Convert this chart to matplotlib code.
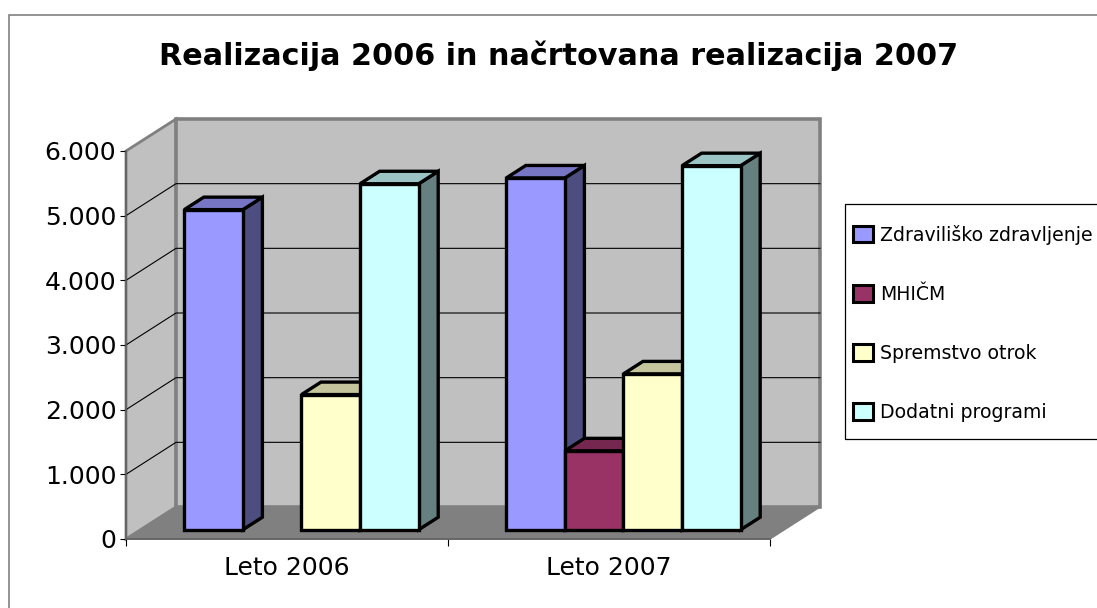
import matplotlib
matplotlib.use("Agg")
import matplotlib.pyplot as plt
from matplotlib.colors import to_rgb
from matplotlib.patches import Patch, Rectangle
from matplotlib.ticker import FuncFormatter

W, H = 1097, 608

title = "Realizacija 2006 in načrtovana realizacija 2007"
years = ["Leto 2006", "Leto 2007"]
series = ["Zdraviliško zdravljenje", "MHIČM", "Spremstvo otrok", "Dodatni programi"]
colors = ["#9999FF", "#993366", "#FFFFCC", "#CCFFFF"]
zdravilisko = [4950, 5440]
mhicm = [0, 1220]
spremstvo = [2090, 2410]
dodatni = [5350, 5630]
y_ticks = [0, 1000, 2000, 3000, 4000, 5000, 6000]

plt.rcParams["font.family"] = "DejaVu Sans"

fig = plt.figure(figsize=(W / 100, H / 100), dpi=100)
# outer chart border, runs off the right and bottom of the picture
fig.add_artist(Rectangle((9 / W, -0.02), 1.1, 1.02 - 14.5 / H, transform=fig.transFigure,
                         fc="white", ec="#808080", lw=1.2, zorder=-1))

left, right, top, bottom = 126, 770, 151, 539
ax = fig.add_axes([left / W, 1 - bottom / H, (right - left) / W, (bottom - top) / H])
ax.set_xlim(0, 2)
ax.set_ylim(0, 6000)
ax.patch.set_visible(False)

# depth of the 3d box in data units (50 px across, 32 px up)
DX = 50 / 322
DY = 32 / (388 / 6000)


def proj(x, y, d):
    return x + d * DX, y + d * DY


def face(points, d_color, edge="black", lw=2.4, z=5):
    xs = [p[0] for p in points]
    ys = [p[1] for p in points]
    ax.fill(xs, ys, fc=d_color, ec=edge, lw=lw, zorder=z, clip_on=False, joinstyle="miter")


def shade(color, k):
    return tuple(c * k for c in to_rgb(color))


# walls and floor
face([proj(0, 0, 0), proj(0, 0, 1), proj(0, 6000, 1), proj(0, 6000, 0)], "#C0C0C0", "#808080", 2, 1)
face([proj(0, 0, 1), proj(2, 0, 1), proj(2, 6000, 1), proj(0, 6000, 1)], "#C0C0C0", "#808080", 2.6, 1)
face([proj(0, 0, 0), proj(2, 0, 0), proj(2, 0, 1), proj(0, 0, 1)], "#808080", "#808080", 1, 2)

for v in y_ticks[1:-1]:
    a, b = proj(0, v, 0), proj(0, v, 1)
    c = proj(2, v, 1)
    ax.plot([a[0], b[0], c[0]], [a[1], b[1], c[1]], color="black", lw=0.8, zorder=3, clip_on=False)

# bars
w = 58.6 / 322
d0, d1 = 0.29, 0.68
values = [zdravilisko, mhicm, spremstvo, dodatni]
for i in range(len(years)):
    for j, vals in enumerate(values):
        v = vals[i]
        if v == 0:
            continue
        x0 = i + 0.5 - 2 * w + j * w
        x1 = x0 + w
        col = colors[j]
        face([proj(x1, 0, d0), proj(x1, 0, d1), proj(x1, v, d1), proj(x1, v, d0)], shade(col, 0.5))
        face([proj(x0, v, d0), proj(x1, v, d0), proj(x1, v, d1), proj(x0, v, d1)], shade(col, 0.77))
        face([proj(x0, 0, d0), proj(x1, 0, d0), proj(x1, v, d0), proj(x0, v, d0)], col)

for s in ["top", "right"]:
    ax.spines[s].set_visible(False)
for s in ["left", "bottom"]:
    ax.spines[s].set_color("#606060")
    ax.spines[s].set_linewidth(1.2)
    ax.spines[s].set_zorder(4)

ax.set_yticks(y_ticks)
ax.yaxis.set_major_formatter(FuncFormatter(lambda v, p: f"{int(v):,}".replace(",", ".")))
ax.tick_params(axis="y", length=4, width=0.8, labelsize=18, pad=3)
ax.set_xticks([0, 1, 2])
ax.set_xticklabels([])
ax.set_xticks([0.5, 1.5], minor=True)
ax.set_xticklabels(years, minor=True, fontsize=18)
ax.tick_params(axis="x", which="major", length=5, width=0.8)
ax.tick_params(axis="x", which="minor", length=0, pad=12)

fig.text(559 / W, 1 - 56 / H, title, ha="center", va="center", fontsize=21.75, fontweight="bold")

# legend frame goes off the right edge of the picture like in the original
fig.add_artist(Rectangle((845 / W, 1 - 438.5 / H), 300 / W, 234.5 / H, transform=fig.transFigure,
                         fc="white", ec="black", lw=0.9, zorder=2))
handles = [Patch(fc=c, ec="black", lw=2.2, label=s) for c, s in zip(colors, series)]
leg = fig.legend(handles=handles, loc="upper left", bbox_to_anchor=(853 / W, 1 - 224.5 / H),
                 fontsize=13.6, frameon=False, labelspacing=2.12, handlelength=1.05,
                 handleheight=1.0, handletextpad=0.37, borderpad=0, borderaxespad=0)
leg.set_zorder(3)

fig.savefig("out.png", dpi=100)
